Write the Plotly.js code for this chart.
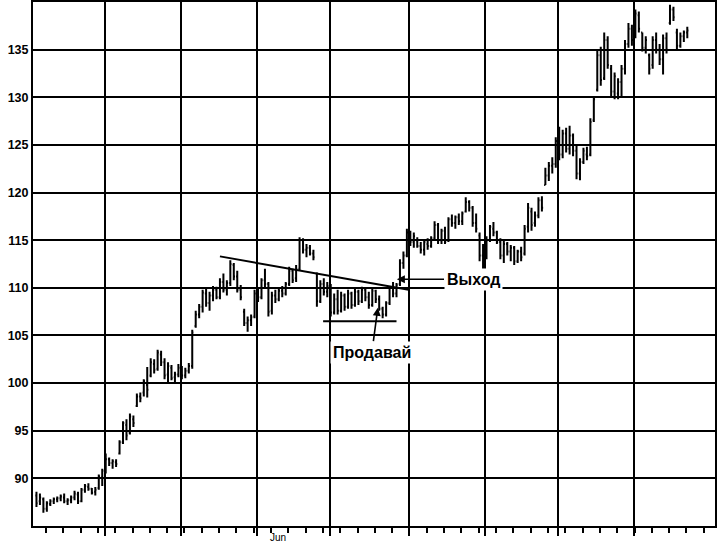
<!DOCTYPE html>
<html>
<head>
<meta charset="utf-8">
<script src="https://cdn.plot.ly/plotly-3.0.1.min.js"></script>
<style>html,body{margin:0;padding:0;background:#fff;}#chart{width:722px;height:544px;}</style>
</head>
<body>
<div id="chart"></div>
<script>
// Daily OHLC bars (x = trading-day index)
const openP = [88.2,87.6,87.8,86.8,87.3,87.6,87.8,87.9,88.0,87.6,87.7,88.0,88.3,87.6,88.8,89.1,88.9,88.6,89.0,90.1,
90.8,92.0,91.6,91.7,92.6,93.8,95.6,94.8,96.2,97.6,98.6,99.0,99.8,100.8,102.0,101.5,103.0,102.2,100.9,101.6,
100.6,100.9,101.5,100.8,101.3,101.8,106.0,107.2,108.0,109.4,108.4,109.2,109.8,109.0,110.6,109.8,110.5,112.4,111.2,109.8,
107.5,106.3,106.6,107.0,109.4,109.0,110.8,110.4,107.6,109.2,108.8,109.7,109.4,110.4,111.8,111.0,112.0,115.0,114.0,114.2,
113.6,111.5,108.6,110.4,109.6,110.2,107.4,108.8,107.6,109.2,108.0,109.4,108.2,109.6,108.6,109.8,109.0,108.2,109.7,108.8,
107.8,107.2,108.4,110.0,109.4,110.4,112.6,113.4,115.8,114.8,115.0,114.4,114.0,114.6,114.4,115.2,116.6,115.0,116.0,115.0,
117.2,116.8,117.4,117.0,118.0,119.0,118.4,116.8,115.5,113.4,114.2,115.0,116.2,115.8,114.8,113.4,114.6,113.8,114.2,112.8,
113.8,113.6,116.4,118.0,116.8,117.6,119.2,120.8,121.8,122.8,123.0,125.4,124.0,126.2,124.6,126.0,124.4,122.0,123.2,124.0,
124.0,127.6,130.8,134.4,132.0,136.0,133.0,130.6,130.4,131.6,133.0,135.6,137.2,136.4,138.6,136.8,135.2,134.4,133.4,136.0,
135.0,134.0,136.2,137.8,139.2,136.8,135.4,136.4,136.8];
const highP = [88.6,88.4,88.0,87.6,87.8,88.0,88.1,88.3,88.4,87.9,88.2,88.7,88.6,89.0,89.4,89.5,89.0,89.1,90.4,91.0,
92.6,92.2,92.0,92.0,94.0,96.0,96.2,96.8,96.6,98.9,99.0,100.4,101.7,102.6,102.5,103.5,103.4,102.6,102.2,101.9,
101.2,102.0,101.8,101.6,102.1,105.6,107.6,108.3,109.8,109.9,109.6,110.2,110.1,111.0,111.5,110.8,112.9,112.6,111.8,110.3,
107.8,107.0,107.2,109.8,110.0,111.0,112.0,110.6,109.6,109.8,110.0,110.2,110.6,112.2,112.0,112.4,115.3,115.2,114.6,114.5,
114.0,111.6,110.8,111.0,110.6,110.4,109.4,109.8,109.6,109.4,109.8,109.6,110.0,109.8,110.1,110.0,109.6,110.0,109.8,109.2,
108.0,108.6,110.2,110.6,110.5,113.0,113.8,116.2,116.0,115.8,115.3,114.8,115.0,115.2,115.4,117.0,116.8,116.2,116.4,117.4,
117.7,117.6,117.8,118.0,119.5,119.2,118.6,117.8,115.8,114.6,115.4,116.6,116.9,116.0,115.2,115.0,114.8,114.5,114.4,114.0,
114.3,116.6,118.9,118.4,118.0,119.5,119.6,122.6,123.2,123.7,125.8,126.9,126.6,126.8,127.0,126.2,125.0,123.6,124.7,124.8,
127.8,130.0,135.0,135.3,136.8,136.4,133.4,132.6,132.0,133.4,136.0,137.8,137.6,139.2,139.0,136.8,136.4,134.6,136.4,136.8,
135.6,136.6,136.8,139.7,139.5,137.2,136.8,137.0,137.4];
const lowP = [87.0,87.2,86.4,86.5,87.1,87.3,87.5,87.6,87.4,87.2,87.4,87.7,87.3,87.5,88.5,88.7,88.3,88.2,88.8,89.2,
90.5,91.3,91.0,91.2,92.5,93.6,94.0,94.6,95.4,97.5,98.0,98.6,98.5,100.6,101.0,101.3,101.8,100.4,100.1,100.3,
100.0,100.6,100.4,100.5,101.0,101.5,105.8,106.8,107.4,108.0,107.6,108.6,108.8,108.8,109.5,109.2,110.2,110.8,109.5,108.7,
106.0,105.4,106.0,106.8,108.5,108.8,110.0,107.0,107.2,108.4,108.6,109.0,109.2,110.2,110.5,110.6,111.8,113.6,113.2,113.4,
112.9,108.0,108.4,109.2,109.0,107.0,107.2,107.2,107.4,107.6,107.8,107.8,108.0,108.2,108.4,108.6,107.8,108.0,108.4,107.6,
106.8,107.0,108.2,109.0,109.0,110.2,112.0,113.2,114.4,114.2,114.2,113.6,113.4,114.0,114.2,115.0,114.6,114.6,114.6,114.8,
116.4,116.2,116.6,116.6,117.9,118.0,116.4,115.8,112.8,111.4,113.0,114.8,115.4,114.6,113.0,112.6,113.4,112.8,112.4,112.6,
112.8,113.4,115.8,116.0,116.4,117.3,118.0,120.8,121.2,122.0,122.6,123.4,123.6,124.2,124.0,123.8,121.4,121.3,123.0,123.4,
123.8,127.4,130.6,131.2,131.8,133.0,130.0,129.8,129.8,130.0,132.4,135.2,135.4,136.2,136.8,134.8,134.6,132.4,133.0,134.6,
133.4,132.4,134.6,137.6,138.0,135.0,135.2,135.8,136.2];
const closeP = [87.4,88.0,86.8,87.4,87.6,87.8,87.9,88.1,87.6,87.7,88.0,88.4,87.6,88.8,89.2,88.9,88.5,88.8,90.2,90.8,
92.0,91.6,91.8,91.5,93.8,95.8,94.5,96.5,95.8,98.6,98.4,100.2,99.3,102.2,101.4,103.2,102.2,100.8,101.8,100.5,
100.9,101.6,100.8,101.3,101.8,105.3,107.2,108.0,109.5,108.4,109.2,109.8,109.0,110.6,109.8,110.5,112.5,111.2,109.8,109.0,
106.3,106.6,106.9,109.4,109.0,110.8,110.4,107.5,109.2,108.8,109.7,109.4,110.4,111.8,110.8,112.0,115.0,114.0,114.2,113.6,
113.2,108.6,110.4,109.6,110.2,107.4,108.8,107.6,109.2,108.0,109.4,108.2,109.6,108.6,109.8,109.0,108.2,109.7,108.8,107.8,
107.2,108.4,110.0,109.4,110.3,112.6,113.4,115.8,114.8,115.4,114.4,114.0,114.8,114.4,115.2,116.6,115.0,116.0,114.8,117.2,
116.8,117.4,117.0,117.8,119.0,118.4,116.8,116.2,113.4,114.2,115.0,116.4,115.8,114.8,113.4,114.6,113.8,114.2,112.8,113.8,
113.2,116.2,118.4,116.6,117.6,119.2,118.4,121.8,122.8,123.0,125.4,124.0,126.2,124.6,126.0,124.4,122.0,123.2,124.4,123.8,
127.4,129.8,134.4,131.8,136.0,133.4,130.6,132.2,131.6,133.0,135.6,137.2,136.0,138.8,137.2,135.2,136.0,133.0,136.0,135.0,
134.0,136.2,135.0,139.2,138.4,135.4,136.4,136.8,137.0];
const dayIdx = openP.map((_, k) => k + 1);

// Price ticks and month grid positions (trading-day index)
const priceTicks = [90, 95, 100, 105, 110, 115, 120, 125, 130, 135];
const monthGrid = [20.9, 42.7, 64.7, 85.8, 108.6, 130.6, 151.6, 173.6];
const monthLabel = {x: 70.8, text: 'Jun'};

// Drawn lines
const trendX = [54, 108.5];
const trendY = [113.3, 109.8];
const supportX = [83.8, 105];
const supportY = [106.5, 106.5];

// Annotations: [tipX, tipY, textX, textY, text]
const sellNote = [99.6, 107.9, 97.9, 103.25, 'Продавай'];
const exitNote = [105.1, 110.9, 127.1, 110.9, 'Выход'];

const traces = [
  {
    type: 'ohlc', x: dayIdx, open: openP, high: highP, low: lowP, close: closeP,
    increasing: {line: {color: '#000', width: 2}},
    decreasing: {line: {color: '#000', width: 2}},
    tickwidth: 0.35, hoverinfo: 'skip', showlegend: false
  },
  {type: 'scatter', mode: 'lines', x: trendX, y: trendY, line: {color: '#000', width: 2}, hoverinfo: 'skip', showlegend: false},
  {type: 'scatter', mode: 'lines', x: supportX, y: supportY, line: {color: '#000', width: 2}, hoverinfo: 'skip', showlegend: false}
];

const noteFont = {family: 'Liberation Sans, Arial, sans-serif', size: 16, color: '#000', weight: 'bold'};
function note(a) {
  return {
    x: a[0], y: a[1], xref: 'x', yref: 'y', ax: a[2], ay: a[3], axref: 'x', ayref: 'y',
    text: a[4], showarrow: true, arrowhead: 2, arrowsize: 1, arrowwidth: 1.6, arrowcolor: '#000',
    font: noteFont, bgcolor: '#fff', borderpad: 2
  };
}

const layout = {
  width: 722, height: 544,
  margin: {l: 33, r: 7, t: 2, b: 18, pad: 0},
  paper_bgcolor: '#fff', plot_bgcolor: '#fff',
  showlegend: false,
  xaxis: {
    range: [0, 197], tickmode: 'array', tickvals: monthGrid, showticklabels: false,
    ticks: 'outside', ticklen: 8, tickwidth: 2, tickcolor: '#000',
    showgrid: true, gridcolor: '#000', gridwidth: 2, zeroline: false,
    showline: true, linecolor: '#000', linewidth: 2, mirror: true,
    minor: {tick0: 3.75, dtick: 5, ticks: 'outside', ticklen: 5, tickwidth: 2, tickcolor: '#000', showgrid: false},
    rangeslider: {visible: false}, fixedrange: true
  },
  yaxis: {
    range: [85, 140], tickmode: 'array', tickvals: priceTicks, ticktext: priceTicks.map(String),
    ticks: '', showgrid: true, gridcolor: '#000', gridwidth: 2, zeroline: false,
    showline: true, linecolor: '#000', linewidth: 2, mirror: true,
    tickfont: {family: 'Liberation Sans, Arial, sans-serif', size: 12.5, color: '#000', weight: 'bold'},
    fixedrange: true
  },
  annotations: [
    note(sellNote), note(exitNote),
    {x: monthLabel.x, y: 0, xref: 'x', yref: 'paper', yanchor: 'top', yshift: -4, showarrow: false,
     text: monthLabel.text, font: {family: 'Liberation Sans, Arial, sans-serif', size: 10, color: '#000'}}
  ]
};

Plotly.newPlot('chart', traces, layout, {staticPlot: true, displayModeBar: false});
</script>
</body>
</html>
